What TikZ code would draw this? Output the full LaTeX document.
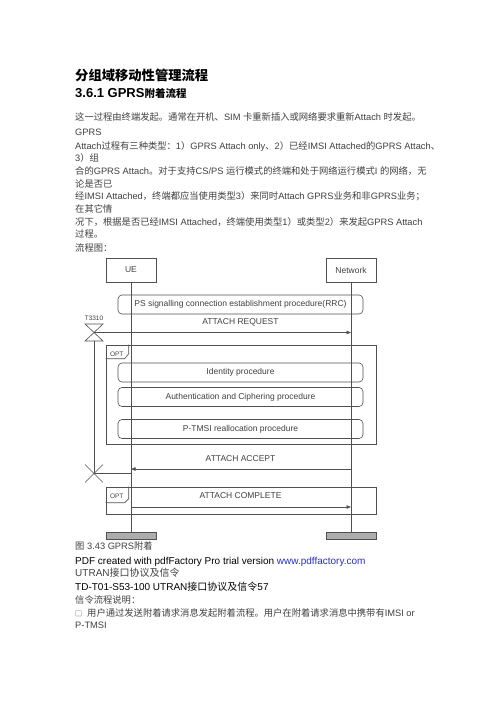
\documentclass[tikz,border=0pt]{standalone}
\usepackage{fontspec}
\setmainfont{Liberation Sans}
\newfontfamily\cjk{Noto Sans CJK SC}
\usetikzlibrary{arrows.meta}

\definecolor{txtgray}{HTML}{404040}
\definecolor{linegray}{HTML}{505050}
\definecolor{linkblue}{HTML}{2B2BD0}

\tikzset{
	txt/.style={anchor=base west, inner sep=0pt, text=txtgray, font=\fontsize{9.3}{11}\selectfont},
	foot/.style={anchor=base west, inner sep=0pt, font=\fontsize{10}{12}\selectfont},
	lbl/.style={inner sep=0pt, text=txtgray, font=\fontsize{8.5}{10}\selectfont},
	optlbl/.style={inner sep=0pt, text=txtgray, font=\fontsize{6.5}{8}\selectfont},
	entity/.style={draw=linegray, line width=0.6pt, minimum width=50pt, minimum height=24pt, inner sep=0pt, text=txtgray, font=\fontsize{8.5}{10}\selectfont},
	proc/.style={draw=linegray, line width=0.6pt, rounded corners=4pt, minimum width=245pt, minimum height=19pt, inner sep=0pt, text=txtgray, font=\fontsize{8.5}{10}\selectfont},
	frame/.style={draw=linegray, line width=0.6pt, minimum width=270pt, inner sep=0pt},
	endbar/.style={draw=linegray, fill=gray!65, line width=0.6pt, minimum width=50pt, minimum height=7pt, inner sep=0pt},
	dline/.style={draw=linegray, line width=0.6pt},
	msg/.style={draw=linegray, line width=0.6pt, -{Triangle[length=4.5pt,width=3.5pt]}},
}

\begin{document}
\begin{tikzpicture}[x=1pt, y=-1pt]
	\useasboundingbox (0,0) rectangle (496,702);
	\fill[white] (0,0) rectangle (496,702);

	\begin{scope}
		% title and heading
		\node[anchor=base west, inner sep=0pt, font=\cjk\bfseries\fontsize{13.3}{15}\selectfont] (title) at (75,80) {分组域移动性管理流程};
		\node[anchor=base west, inner sep=0pt] (head) at (75,97.5) {\fontsize{13}{15}\selectfont\bfseries 3.6.1 GPRS{\cjk\fontsize{10.5}{12}\selectfont 附着流程}};

		% body text, one node per printed line
		\node[txt] (l1) at (75,120.5) {{\cjk 这一过程由终端发起。通常在开机、}SIM {\cjk 卡重新插入或网络要求重新}Attach {\cjk 时发起。}};
		\node[txt] (l2) at (75,135.5) {GPRS};
		\node[txt] (l3) at (75,149.5) {Attach{\cjk 过程有三种类型：}1{\cjk ）}GPRS Attach only{\cjk 、}2{\cjk ）已经}IMSI Attached{\cjk 的}GPRS Attach{\cjk 、}};
		\node[txt] (l4) at (75,161.5) {3{\cjk ）组}};
		\node[txt] (l5) at (75,174.5) {{\cjk 合的}GPRS Attach{\cjk 。对于支持}CS/PS {\cjk 运行模式的终端和处于网络运行模式}I {\cjk 的网络，无}};
		\node[txt] (l6) at (75,187.5) {{\cjk 论是否已}};
		\node[txt] (l7) at (75,199.5) {{\cjk 经}IMSI Attached{\cjk ，终端都应当使用类型}3{\cjk ）来同时}Attach GPRS{\cjk 业务和非}GPRS{\cjk 业务；}};
		\node[txt] (l8) at (75,212.5) {{\cjk 在其它情}};
		\node[txt] (l9) at (75,225.5) {{\cjk 况下，根据是否已经}IMSI Attached{\cjk ，终端使用类型}1{\cjk ）或类型}2{\cjk ）来发起}GPRS Attach};
		\node[txt] (l10) at (75,237.5) {{\cjk 过程。}};
		\node[txt] (l11) at (75,251.5) {{\cjk 流程图：}};

		% entities and lifelines
		\node[entity] (ue) at (131,270) {UE};
		\node[entity] (net) at (351,270) {Network};
		\node[endbar] (uebar) at (131,535.5) {};
		\node[endbar] (netbar) at (351,535.5) {};
		\draw[dline] (ue) -- (uebar);
		\draw[dline] (net) -- (netbar);

		% RRC connection
		\node[proc] (rrc) at (240.5,304.5) {PS signalling connection establishment procedure(RRC)};

		% timer start
		\node[optlbl] (t3310) at (94,318) {T3310};
		\draw[dline] (85,324) -- (103,324) -- (85,341) -- (103,341) -- cycle; % hourglass
		\coordinate (req) at (94,332.5);
		\node[lbl] (reqlbl) at (240.5,322) {ATTACH REQUEST};
		\draw[msg] (req) -- (req -| net);

		% optional procedures
		\node[frame, minimum height=99pt] (opt1) at (241,394.5) {};
		\draw[dline] ([xshift=23pt]opt1.north west) -- ++(0,9) -- ++(-4,5) -- ++(-19,0);
		\node[optlbl] (opt1lbl) at ([shift={(11,10)}]opt1.north west) {OPT};
		\node[proc] (ident) at (240.5,372.5) {Identity procedure};
		\node[proc] (auth) at (240.5,397) {Authentication and Ciphering procedure};
		\node[proc] (ptmsi) at (240.5,429) {P-TMSI reallocation procedure};

		% accept, timer stop
		\coordinate (acc) at (0,469);
		\node[lbl] (acclbl) at (240.5,459) {ATTACH ACCEPT};
		\draw[msg] (net |- acc) -- (ue |- acc);
		\coordinate (stop) at (94,473.5);
		\draw[dline] (94,341) -- (stop);
		\draw[dline] (stop) -- (ue |- stop);
		\draw[dline] (85,464.5) -- (103,482.5) (103,464.5) -- (85,482.5); % cross

		% complete
		\node[frame, minimum height=27pt] (opt2) at (241,500.5) {};
		\draw[dline] ([xshift=23pt]opt2.north west) -- ++(0,12) -- ++(-4,4) -- ++(-19,0);
		\node[optlbl] (opt2lbl) at ([shift={(11,10)}]opt2.north west) {OPT};
		\coordinate (cpl) at (0,507);
		\node[lbl] (cpllbl) at (240.5,496) {ATTACH COMPLETE};
		\draw[msg] (ue |- cpl) -- (net |- cpl);

		% caption and footer lines
		\node[txt] (cap) at (75,549.5) {{\cjk 图} 3.43 GPRS{\cjk 附着}};
		\node[foot] (pdf) at (75,564.7) {PDF created with pdfFactory Pro trial version \textcolor{linkblue}{www.pdffactory.com}};
		\node[foot, text=txtgray] (ft1) at (75,576.7) {UTRAN{\cjk 接口协议及信令}};
		\node[foot] (ft2) at (75,590.7) {TD-T01-S53-100 UTRAN{\cjk 接口协议及信令}57};
		\node[txt] (l12) at (75,603.5) {{\cjk 信令流程说明：}};
		\node[txt] (l13) at (75,616.5) {{\cjk\fontsize{7}{9}\selectfont □}\hspace{5pt}{\cjk 用户通过发送附着请求消息发起附着流程。用户在附着请求消息中携带有}IMSI or};
		\node[txt] (l14) at (75,628.5) {P-TMSI};
	\end{scope}
\end{tikzpicture}
\end{document}
